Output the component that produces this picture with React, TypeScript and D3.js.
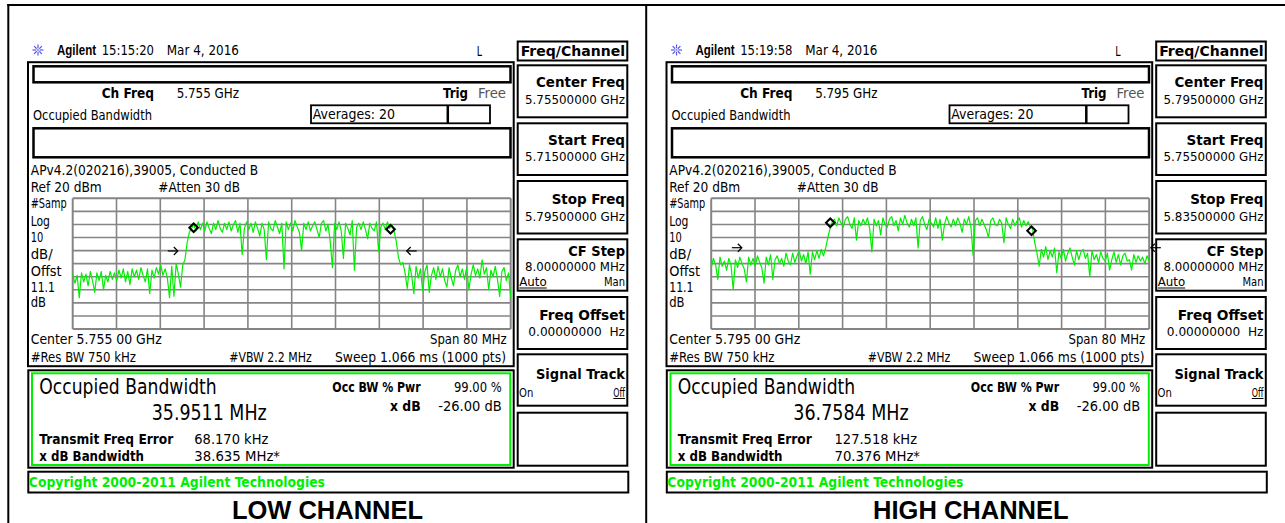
import React from "react";
import * as d3 from "d3";

// ---------- data ----------
const LOW_TRACE = [
  -38, -45, -39, -56, -37, -44, -38, -47, -36, -43,
  -52, -37, -43, -36, -50, -39, -44, -36, -42, -37,
  -43, -35, -41, -34, -44, -36, -46, -34, -40, -35,
  -42, -33, -39, -44, -34, -53, -35, -41, -33, -38,
  -31, -39, -34, -41, -56, -32, -55, -30, -38, -48,
  -31, -27, -14, -6, -3, 0, -5, 2, -4, 1,
  -5, 2, -3, -7, 1, -4, 3, -3, -6, 1,
  -4, 2, -5, 0, 3, -6, 1, -23, -3, 2,
  -4, 1, -6, 2, -3, -9, 1, -4, -27, 2,
  -3, -5, 3, -2, -7, 1, -34, 2, -4, 1,
  -5, 3, -2, -6, -20, 1, -4, 2, -5, -1,
  2, -4, -10, 1, 3, -5, 0, -13, -33, 1,
  -4, 2, -5, -26, 1, -3, -8, 3, -35, -2,
  1, -4, 2, -4, -11, 1, -3, -5, 2, -21,
  -2, 1, -4, 2, -3, 0, -5, -13, -25, -31,
  -29, -37, -49, -31, -39, -53, -32, -41, -34, -51,
  -36, -31, -52, -39, -33, -42, -32, -40, -34, -43,
  -48, -33, -41, -47, -35, -31, -40, -34, -42, -33,
  -50, -38, -31, -39, -34, -41, -27, -38, -33, -50,
  -35, -40, -32, -42, -55, -36, -33, -43, -37, -56,
];
const HIGH_TRACE = [
  -33, -26, -31, -42, -25, -32, -28, -35, -26, -31,
  -50, -27, -33, -25, -30, -34, -44, -25, -31, -26,
  -32, -24, -29, -33, -45, -25, -31, -23, -42, -27,
  -24, -30, -26, -32, -22, -28, -31, -22, -29, -24,
  -20, -28, -23, -30, -21, -38, -21, -27, -20, -26,
  -19, -24, -18, -10, -3, 2, 4, -1, 5, 1,
  -2, 4, 6, 0, -3, 5, -12, 3, -1, 4,
  0, 5, -3, -21, 4, -1, 3, -8, 5, 0,
  -2, 4, 6, -1, 3, -5, 5, 0, 7, 1,
  -2, 4, -1, 5, -18, 3, 6, 0, -4, 4,
  1, -2, 5, -3, 4, -12, 0, 6, 1, -2,
  4, -1, 5, 1, -6, 4, 0, 6, -2, -24,
  3, 5, -1, 4, 0, -4, -10, 3, 5, 0,
  -1, 4, 1, -14, 5, 0, -3, 4, -1, 3,
  5, -2, 3, -1, 2, -2, -3, -14, -22, -32,
  -19, -25, -17, -27, -20, -25, -18, -37, -21, -26,
  -19, -28, -22, -18, -25, -31, -20, -27, -21, -19,
  -26, -22, -40, -20, -27, -23, -29, -21, -26, -28,
  -22, -35, -27, -21, -29, -23, -31, -24, -22, -28,
  -27, -35, -23, -29, -24, -28, -25, -30, -24, -28,
];
const TRACES = [LOW_TRACE, HIGH_TRACE];
const CENTER_GHZ = [5.755, 5.795];
const SPAN_MHZ = 80;
const REF_DBM = 20;
const DB_PER_DIV = 10;
const GRID_DIVS = 10;
const TIMESTAMPS = ["15:15:20", "15:19:58"];
const DATE_LABEL = "Mar 4, 2016";
const OBW_MHZ = ["35.9511 MHz", "36.7584 MHz"];
const FREQ_ERROR = ["68.170 kHz", "127.518 kHz"];
const XDB_BW = ["38.635 MHz*", "70.376 MHz*"];
const CHANNEL_LABELS = ["LOW CHANNEL", "HIGH CHANNEL"];
const OBW_MARKERS = [
  [{ ghz: 5.73709, dbm: -2.5 }, { ghz: 5.77305, dbm: -3.7 }],
  [{ ghz: 5.77675, dbm: 1.3 }, { ghz: 5.81351, dbm: -4.8 }],
];
const XDB_ARROWS = [
  [{ ghz: 5.7342, dbm: -20.3, dir: 1 }, { ghz: 5.776, dbm: -20.3, dir: -1 }],
  [{ ghz: 5.7606, dbm: -17.8, dir: 1 }, { ghz: 5.8353, dbm: -17.8, dir: -1 }],
];
const SIDE_LABELS = ["#Samp", "Log", "10", "dB/", "Offst", "11.1", "dB"];
const SOFTKEY_TITLES = ["Center Freq", "Start Freq", "Stop Freq", "CF Step", "Freq Offset", "Signal Track"];

// ---------- layout ----------
const PANEL_OFFSETS = [0, 638.5];
const FONT = "'DejaVu Sans Condensed','Liberation Sans Narrow','Roboto Condensed',Roboto,'DejaVu Sans',sans-serif";
const GREEN = "#00ee00";
const G = { x0: 72.7, x1: 510.7, y0: 198.3, y1: 329 };

const T = ({ x1, x2, yc, s = 14, b = false, fill = "#000", fam = FONT, children }: any) => (
  <text
    x={x1}
    y={yc + s * 0.36}
    fontSize={s}
    fontWeight={b ? 700 : 400}
    fill={fill}
    fontFamily={fam}
    textLength={x2 - x1}
    lengthAdjust="spacingAndGlyphs"
    style={{ whiteSpace: "pre" }}
  >
    {children}
  </text>
);

const Box = ({ x1, y1, x2, y2, w = 2, stroke = "#000" }: any) => (
  <rect x={x1} y={y1} width={x2 - x1} height={y2 - y1} fill="none" stroke={stroke} strokeWidth={w} />
);

const Logo = () => (
  <g transform="translate(38,50)" stroke="#5656e8" strokeWidth={1.2}>
    {d3.range(8).map((k) => {
      const a = (k * Math.PI) / 4;
      return (
        <line key={k} x1={Math.cos(a) * 1.8} y1={Math.sin(a) * 1.8} x2={Math.cos(a) * 5.5} y2={Math.sin(a) * 5.5} />
      );
    })}
    <circle r={1.2} fill="#9a9af5" stroke="none" />
  </g>
);

function Panel({ p }: { p: number }) {
  const ox = PANEL_OFFSETS[p];
  const c = CENTER_GHZ[p];
  const start = c - SPAN_MHZ / 2000;
  const stop = c + SPAN_MHZ / 2000;
  const x = d3.scaleLinear().domain([start, stop]).range([G.x0, G.x1]);
  const y = d3.scaleLinear().domain([REF_DBM - GRID_DIVS * DB_PER_DIV, REF_DBM]).range([G.y1, G.y0]);
  const trace = TRACES[p];
  const n = trace.length;
  const line = d3
    .line<number>()
    .x((_, i) => x(start + ((stop - start) * i) / (n - 1)))
    .y((d) => y(d));
  const vTicks = d3.range(GRID_DIVS + 1).map((i) => start + ((stop - start) * i) / GRID_DIVS);
  const hTicks = d3.range(GRID_DIVS + 1).map((i) => REF_DBM - i * DB_PER_DIV);

  const skTops = [64.3, 122.3, 180, 238.3, 296, 353.3, 411.7];
  const skBots = [118.3, 176, 234.5, 291.7, 350, 406.7, 466.7];
  const titleX = [536, 548, 551.7, 568.3, 539.3, 536];
  const titleY = [81.7, 139.3, 199, 250.4, 315, 373.3];
  const valY = [99.3, 156.7, 216, 266];
  const vals = [c.toFixed(8) + " GHz", start.toFixed(8) + " GHz", stop.toFixed(8) + " GHz", "8.00000000 MHz"];
  const sideY = [203.3, 220.7, 237.3, 254, 270.7, 286.7, 301.7];
  const sideX2 = [66.7, 50, 43.3, 52.7, 61.7, 55, 46];

  return (
    <g transform={`translate(${ox},0)`}>
      {/* header */}
      <Logo />
      <T x1={57} x2={96} yc={50} b fam="'Liberation Sans',Arial,sans-serif">Agilent</T>
      <T x1={101.7} x2={154} yc={50}>{TIMESTAMPS[p]}</T>
      <T x1={166.7} x2={239} yc={50}>{DATE_LABEL}</T>
      <T x1={476.7} x2={482} yc={50.7}>L</T>

      {/* main frame */}
      <Box x1={28} y1={62.2} x2={513.7} y2={366.2} w={2} />
      <Box x1={33.5} y1={66.3} x2={510.5} y2={82.3} w={2.5} />
      <T x1={101.7} x2={154} yc={92.7} b>Ch Freq</T>
      <T x1={176.7} x2={239} yc={92.7}>{c.toFixed(3) + " GHz"}</T>
      <T x1={443} x2={468} yc={93} b>Trig</T>
      <T x1={478} x2={506} yc={93} fill="#555">Free</T>
      <T x1={33} x2={152} yc={115}>Occupied Bandwidth</T>
      <Box x1={311} y1={105.3} x2={490} y2={123.3} w={1.8} />
      <line x1={447.8} y1={105.3} x2={447.8} y2={123.3} stroke="#000" strokeWidth={2.5} />
      <T x1={312.7} x2={395} yc={114.3}>Averages: 20</T>
      <Box x1={33.5} y1={128.3} x2={510.5} y2={157.3} w={2.5} />
      <T x1={30.8} x2={258.2} yc={170}>APv4.2(020216),39005, Conducted B</T>
      <T x1={30.7} x2={101.7} yc={187}>{`Ref ${REF_DBM} dBm`}</T>
      <T x1={158.3} x2={240} yc={187}>#Atten 30 dB</T>
      {SIDE_LABELS.map((s, i) => (
        <T key={s + i} x1={30.7} x2={sideX2[i]} yc={sideY[i]}>{s}</T>
      ))}

      {/* grid */}
      {vTicks.map((f, i) => (
        <line key={"v" + i} x1={x(f)} x2={x(f)} y1={G.y0} y2={G.y1} stroke="#858585"
          strokeWidth={i === 0 || i === GRID_DIVS ? 2 : 1.6} />
      ))}
      {hTicks.map((d, i) => (
        <line key={"h" + i} x1={G.x0} x2={G.x1} y1={y(d)} y2={y(d)} stroke="#858585"
          strokeWidth={i === 0 || i === GRID_DIVS ? 2 : 1.6} />
      ))}

      {/* trace */}
      <path d={line(trace) || ""} fill="none" stroke={GREEN} strokeWidth={1.2} strokeLinejoin="round" />

      {/* OBW markers */}
      {OBW_MARKERS[p].map((m, i) => {
        const cx = x(m.ghz), cy = y(m.dbm), r = 4.3;
        return (
          <polygon key={"m" + i} points={`${cx},${cy - r} ${cx + r},${cy} ${cx},${cy + r} ${cx - r},${cy}`}
            fill="none" stroke="#000" strokeWidth={2} />
        );
      })}
      {/* x dB arrows */}
      {XDB_ARROWS[p].map((a, i) => {
        const tx = x(a.ghz), ty = y(a.dbm), d = a.dir;
        return (
          <g key={"a" + i} stroke="#000" strokeWidth={1.2} fill="none">
            <line x1={tx - d * 10} y1={ty} x2={tx} y2={ty} />
            <polyline points={`${tx - d * 4},${ty - 4} ${tx},${ty} ${tx - d * 4},${ty + 4}`} />
          </g>
        );
      })}

      <T x1={30.7} x2={161.7} yc={339.3}>{`Center ${c.toFixed(3)} 00 GHz`}</T>
      <T x1={430} x2={506.7} yc={339.3}>{`Span ${SPAN_MHZ} MHz`}</T>
      <T x1={30.7} x2={136} yc={356.7}>#Res BW 750 kHz</T>
      <T x1={229.3} x2={311.7} yc={356.7}>#VBW 2.2 MHz</T>
      <T x1={335} x2={506} yc={356.7}>Sweep 1.066 ms (1000 pts)</T>

      {/* result box */}
      <Box x1={28.3} y1={370.3} x2={513.7} y2={467.7} w={2} />
      <Box x1={32} y1={373.3} x2={510.3} y2={465} w={2} stroke={GREEN} />
      <T x1={39.3} x2={216.7} yc={386} s={21.5}>Occupied Bandwidth</T>
      <T x1={p === 0 ? 151.7 : 154.8} x2={p === 0 ? 266.7 : 270.2} yc={412.7} s={21.5}>{OBW_MHZ[p]}</T>
      <T x1={39.3} x2={173.3} yc={439} b>Transmit Freq Error</T>
      <T x1={p === 0 ? 194.3 : 196} x2={p === 0 ? 268.3 : 278.5} yc={439}>{FREQ_ERROR[p]}</T>
      <T x1={39.3} x2={144} yc={456} b>x dB Bandwidth</T>
      <T x1={p === 0 ? 194.3 : 196} x2={p === 0 ? 280 : 281.5} yc={456}>{XDB_BW[p]}</T>
      <T x1={332.3} x2={420.7} yc={387.3} b>Occ BW % Pwr</T>
      <T x1={454} x2={501.7} yc={387.3}>99.00 %</T>
      <T x1={390} x2={420.7} yc={406} b>x dB</T>
      <T x1={438.3} x2={501.7} yc={406}>-26.00 dB</T>

      {/* copyright */}
      <Box x1={28.3} y1={471.7} x2={628.3} y2={492.5} w={2} />
      <T x1={28.8} x2={325} yc={482.3} b fill={GREEN}>Copyright 2000-2011 Agilent Technologies</T>

      {/* softkeys */}
      <Box x1={517.7} y1={41.5} x2={627.3} y2={60.5} w={2} />
      <T x1={520.7} x2={625} yc={50.7} b>Freq/Channel</T>
      {skTops.map((t, i) => (
        <Box key={"sk" + i} x1={517.7} y1={t + 1} x2={627.3} y2={skBots[i] - 1} w={2} />
      ))}
      {SOFTKEY_TITLES.map((s, i) => (
        <T key={s} x1={titleX[i]} x2={625} yc={titleY[i]} b s={14.5}>{s}</T>
      ))}
      {vals.map((v, i) => (
        <T key={"val" + i} x1={525} x2={625} yc={valY[i]} s={12.5}>{v}</T>
      ))}
      <T x1={519.3} x2={546.7} yc={281.7} s={12.5}>Auto</T>
      <line x1={519.3} x2={546.7} y1={288} y2={288} stroke="#000" strokeWidth={1} />
      <T x1={604} x2={625} yc={281.7} s={12.5}>Man</T>
      <T x1={528.3} x2={625} yc={331.7} s={12.5}>0.00000000  Hz</T>
      <T x1={519} x2={533.3} yc={392.3} s={12}>On</T>
      <T x1={613.3} x2={625} yc={392.3} s={12}>Off</T>
      <line x1={613.3} x2={625} y1={398.5} y2={398.5} stroke="#000" strokeWidth={1} />

      {/* channel label */}
      <text x={p === 0 ? 327.5 : 332.3} y={518.5} textAnchor="middle" fontSize={25.5} fontWeight={700}
        fontFamily="'Liberation Sans',Arial,sans-serif" fill="#000">
        {CHANNEL_LABELS[p]}
      </text>
    </g>
  );
}

export default function App() {
  return (
    <svg width={1285} height={523} viewBox="0 0 1285 523"
      style={{ position: "absolute", left: 0, top: 0, background: "#fff", display: "block" }}>
      <rect x={0} y={0} width={1285} height={523} fill="#fff" />
      <line x1={7.3} x2={1285} y1={5} y2={5} stroke="#000" strokeWidth={2} />
      <line x1={8.3} x2={8.3} y1={4} y2={523} stroke="#000" strokeWidth={2} />
      <line x1={646.2} x2={646.2} y1={4} y2={523} stroke="#000" strokeWidth={2} />
      <Panel p={0} />
      <Panel p={1} />
    </svg>
  );
}
